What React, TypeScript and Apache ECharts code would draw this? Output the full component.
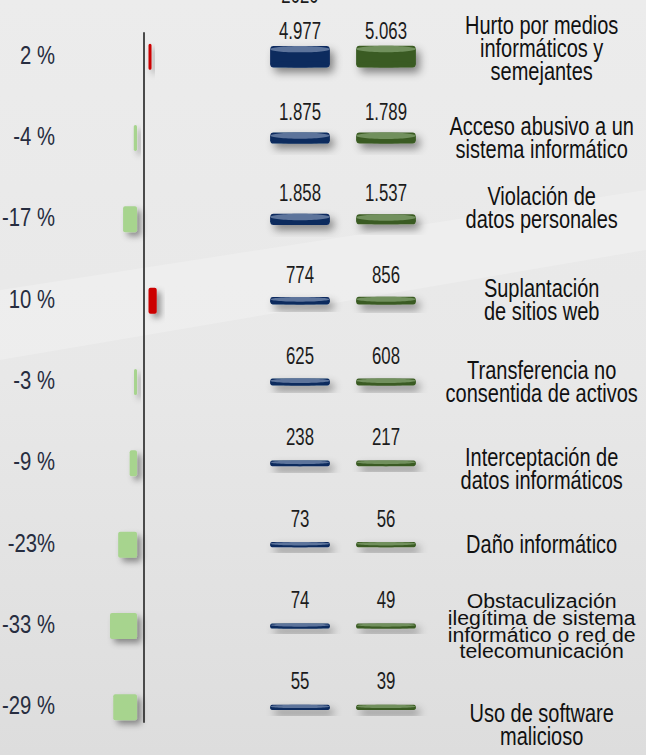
import React, { useEffect, useRef } from 'react';
import * as echarts from 'echarts';

const FONT = "'Liberation Sans', Arial, sans-serif";

const categories = [
  'Hurto por medios\ninformáticos y\nsemejantes',
  'Acceso abusivo a un\nsistema informático',
  'Violación de\ndatos personales',
  'Suplantación\nde sitios web',
  'Transferencia no\nconsentida de activos',
  'Interceptación de\ndatos informáticos',
  'Daño informático',
  'Obstaculización\nilegítima de sistema\ninformático o red de\ntelecomunicación',
  'Uso de software\nmalicioso',
];
const seriesNames = ['2020', '2021'];
const values2020 = [4977, 1875, 1858, 774, 625, 238, 73, 74, 55];
const values2021 = [5063, 1789, 1537, 856, 608, 217, 56, 49, 39];
const changePct = [2, -4, -17, 10, -3, -9, -23, -33, -29];
const changeLabels = ['2 %', '-4 %', '-17 %', '10 %', '-3 %', '-9 %', '-23%', '-33 %', '-29 %'];

// style tweaks: vertical nudges of a few category labels, squeezed label
const labelShift: Record<number, number> = { 0: -8, 2: -11, 5: 6, 8: 18 };
const squeezedLabel = 7;

function fmt(v: number): string {
  return v >= 1000 ? `${Math.floor(v / 1000)}.${String(v % 1000).padStart(3, '0')}` : String(v);
}

function makeDisc(body: string, topColor: string) {
  return (params: any, api: any) => {
    const col = api.value(0);
    const row = api.value(1);
    const v = api.value(2) as number;
    const pt = api.coord([col, row]);
    const bw = api.size([1, 0])[0];
    const w = bw * 0.69;
    const h = 5 + v * 0.0033;
    const e = Math.min(3.2, h * 0.32);
    const top = pt[1] - h / 2;
    const bottom = pt[1] + h / 2;
    const left = pt[0] - w / 2;
    return {
      type: 'group',
      children: [
        {
          type: 'rect',
          shape: { x: left, y: top, width: w, height: h, r: e },
          style: {
            fill: body,
            shadowBlur: 8,
            shadowOffsetX: 4,
            shadowOffsetY: 5,
            shadowColor: 'rgba(0,0,0,0.45)',
          },
        },
        {
          type: 'rect',
          shape: { x: left, y: top + e, width: w, height: Math.max(0, h - 2 * e) },
          style: { fill: body },
        },
        {
          type: 'ellipse',
          shape: { cx: pt[0], cy: bottom - e, rx: w / 2, ry: e },
          style: { fill: body },
        },
        {
          type: 'ellipse',
          shape: { cx: pt[0], cy: top + e, rx: w / 2, ry: e },
          style: { fill: topColor },
        },
        {
          type: 'text',
          x: pt[0],
          y: pt[1] - 26,
          scaleX: 0.73,
          style: {
            text: fmt(v),
            x: 0,
            y: 0,
            align: 'center',
            verticalAlign: 'middle',
            font: `23px ${FONT}`,
            fill: '#1c1c1c',
          },
        },
      ],
    };
  };
}

export default function App() {
  const ref = useRef<HTMLDivElement>(null);
  useEffect(() => {
    document.body.style.margin = '0';
    const chart = echarts.init(ref.current!, null, { renderer: 'svg' });
    const rowTop = 16;
    const rowHeight = 732;
    const negGap = 8.5;
    const posGap = 5.5;
    const offsets = changePct.map((v) => (v < 0 ? -negGap : posGap));

    chart.setOption({
      animation: false,
      backgroundColor: new echarts.graphic.LinearGradient(0, 0, 0, 1, [
        { offset: 0, color: '#ececec' },
        { offset: 0.5, color: '#e8e8e8' },
        { offset: 1, color: '#dddddd' },
      ]),
      graphic: [
        {
          type: 'polygon',
          z: 0,
          shape: { points: [[0, 290], [646, 190], [646, 250], [0, 360]] },
          style: { fill: 'rgba(255,255,255,0.22)' },
        },
        {
          type: 'text',
          z: 10,
          x: 300,
          y: 6,
          scaleX: 0.73,
          style: {
            text: '2020',
            align: 'center',
            verticalAlign: 'bottom',
            font: `23px ${FONT}`,
            fill: '#1c1c1c',
          },
        },
      ],
      grid: [
        { left: 103, width: 82, top: rowTop, height: rowHeight, outerBoundsMode: 'none' },
        { left: 144, width: 10, top: 33, bottom: 33, outerBoundsMode: 'none' },
        { left: 257, width: 172, top: rowTop, height: rowHeight, outerBoundsMode: 'none' },
      ],
      xAxis: [
        { gridIndex: 0, type: 'value', min: -50, max: 50, show: false },
        { gridIndex: 1, type: 'value', min: 0, max: 1, show: false },
        { gridIndex: 2, type: 'category', data: seriesNames, show: false },
      ],
      yAxis: [
        {
          gridIndex: 0,
          type: 'category',
          data: changeLabels,
          inverse: true,
          axisLine: { show: false },
          axisTick: { show: false },
          axisLabel: { show: false },
        },
        {
          gridIndex: 1,
          type: 'value',
          min: 0,
          max: 1,
          axisLine: { show: true, onZero: false, lineStyle: { color: '#4a4a4a', width: 2 } },
          axisTick: { show: false },
          axisLabel: { show: false },
          splitLine: { show: false },
        },
        {
          gridIndex: 2,
          type: 'category',
          data: categories,
          inverse: true,
          axisLine: { show: false },
          axisTick: { show: false },
          axisLabel: { show: false },
        },
      ],
      series: [
        {
          name: 'offset',
          type: 'bar',
          xAxisIndex: 0,
          yAxisIndex: 0,
          stack: 'chg',
          barWidth: 26,
          silent: true,
          data: offsets,
          itemStyle: { color: 'rgba(0,0,0,0)' },
        },
        {
          name: 'Variación',
          type: 'bar',
          xAxisIndex: 0,
          yAxisIndex: 0,
          stack: 'chg',
          barWidth: 26,
          barMinHeight: 3,
          data: changePct,
          itemStyle: {
            color: (p: any) => (p.value > 0 ? '#cc0000' : '#a7d48e'),
            borderRadius: 2,
            shadowBlur: 6,
            shadowOffsetX: 4,
            shadowOffsetY: 4,
            shadowColor: 'rgba(0,0,0,0.4)',
          },
        },
        {
          name: 'pctLabels',
          type: 'custom',
          xAxisIndex: 0,
          yAxisIndex: 0,
          silent: true,
          data: changeLabels.map((_, i) => [-50, i]),
          encode: { x: 0, y: 1 },
          renderItem: (params: any, api: any) => {
            const pt = api.coord([api.value(0), api.value(1)]);
            return {
              type: 'text',
              x: pt[0] - 48,
              y: pt[1] - 2,
              scaleX: 0.78,
              style: {
                text: changeLabels[params.dataIndex],
                x: 0,
                y: 0,
                align: 'right',
                verticalAlign: 'middle',
                font: `26px ${FONT}`,
                fill: '#272d40',
              },
            };
          },
        },
        {
          name: seriesNames[0],
          type: 'custom',
          xAxisIndex: 2,
          yAxisIndex: 2,
          renderItem: makeDisc('#0c2b5e', '#5d749b'),
          encode: { x: 0, y: 1 },
          data: values2020.map((v, i) => [0, i, v]),
        },
        {
          name: seriesNames[1],
          type: 'custom',
          xAxisIndex: 2,
          yAxisIndex: 2,
          renderItem: makeDisc('#3a5b23', '#71905d'),
          encode: { x: 0, y: 1 },
          data: values2021.map((v, i) => [1, i, v]),
        },
        {
          name: 'categoryLabels',
          type: 'custom',
          xAxisIndex: 2,
          yAxisIndex: 2,
          silent: true,
          encode: { x: 0, y: 1 },
          data: categories.map((_, i) => [1, i]),
          renderItem: (params: any, api: any) => {
            const i = params.dataIndex;
            const pt = api.coord([api.value(0), api.value(1)]);
            const bw = api.size([1, 0])[0];
            const squeezed = i === squeezedLabel;
            return {
              type: 'text',
              x: pt[0] + bw * 1.81,
              y: pt[1] + (labelShift[i] || 0),
              scaleX: squeezed ? 0.85 : 0.8,
              scaleY: squeezed ? 0.8 : 1,
              style: {
                text: categories[i],
                x: 0,
                y: 0,
                align: 'center',
                verticalAlign: 'middle',
                font: `25px ${FONT}`,
                lineHeight: squeezed ? 21 : 23,
                fill: '#111111',
              },
            };
          },
        },
      ],
    });
    return () => chart.dispose();
  }, []);
  return <div ref={ref} style={{ width: 646, height: 755 }} />;
}
